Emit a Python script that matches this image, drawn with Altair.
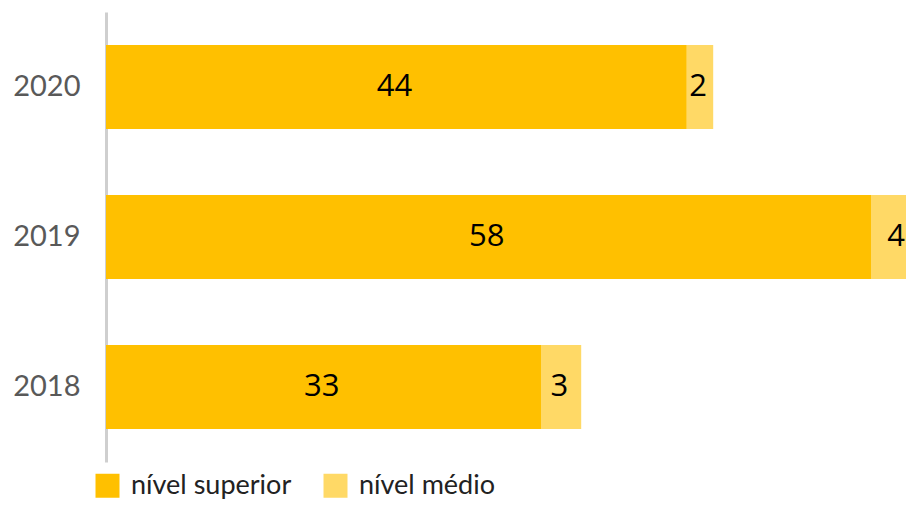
import altair as alt
import pandas as pd

years = ["2020", "2019", "2018"]
superior = [44, 58, 33]
medio = [2, 4, 3]
levels = ["nível superior", "nível médio"]
colors = ["#FFC000", "#FFD966"]

rows = []
for y, s, m in zip(years, superior, medio):
    rows.append({"ano": y, "nivel": levels[0], "valor": s, "ord": 0})
    rows.append({"ano": y, "nivel": levels[1], "valor": m, "ord": 1})
df = pd.DataFrame(rows)

base = alt.Chart(df).transform_stack(
    stack="valor", as_=["x0", "x1"], groupby=["ano"],
    sort=[alt.SortField("ord", order="ascending")]
).transform_calculate(mid="(datum.x0 + datum.x1) / 2")

yenc = alt.Y("ano:N", sort=years,
             scale=alt.Scale(paddingInner=0.44, paddingOuter=0.22),
             axis=alt.Axis(title=None, ticks=False, grid=False, domain=True,
                           domainColor="#CFCFCF", domainWidth=3,
                           labelFont="Lato", labelFontSize=29,
                           labelColor="#595959", labelPadding=26))

xscale = alt.Scale(domain=[0, 800 / 13.2], nice=False, zero=True)

bars = base.mark_bar(clip=True).encode(
    y=yenc,
    x=alt.X("x0:Q", scale=xscale, axis=None),
    x2="x1:Q",
    color=alt.Color("nivel:N", scale=alt.Scale(domain=levels, range=colors),
                    legend=alt.Legend(title=None, orient="none", legendX=-12, legendY=460,
                                      direction="horizontal", symbolType="square",
                                      symbolSize=576, symbolStrokeWidth=0,
                                      labelFont="Lato", labelFontSize=27,
                                      labelLimit=400,
                                      labelColor="#222222", labelOffset=10,
                                      columnPadding=30, padding=0)),
)

text = base.mark_text(font="Open Sans", fontSize=31, color="black", dx=-2).encode(
    y=alt.Y("ano:N", sort=years),
    x=alt.X("mid:Q", scale=xscale),
    text="valor:Q",
)

chart = (bars + text).properties(
    width=800, height=450,
    autosize=alt.AutoSizeParams(type="none"),
    padding={"left": 98, "top": 4, "right": 0, "bottom": 38},
).configure_view(stroke=None)

chart.save("out.html", embed_options={"renderer": "svg", "actions": False})
